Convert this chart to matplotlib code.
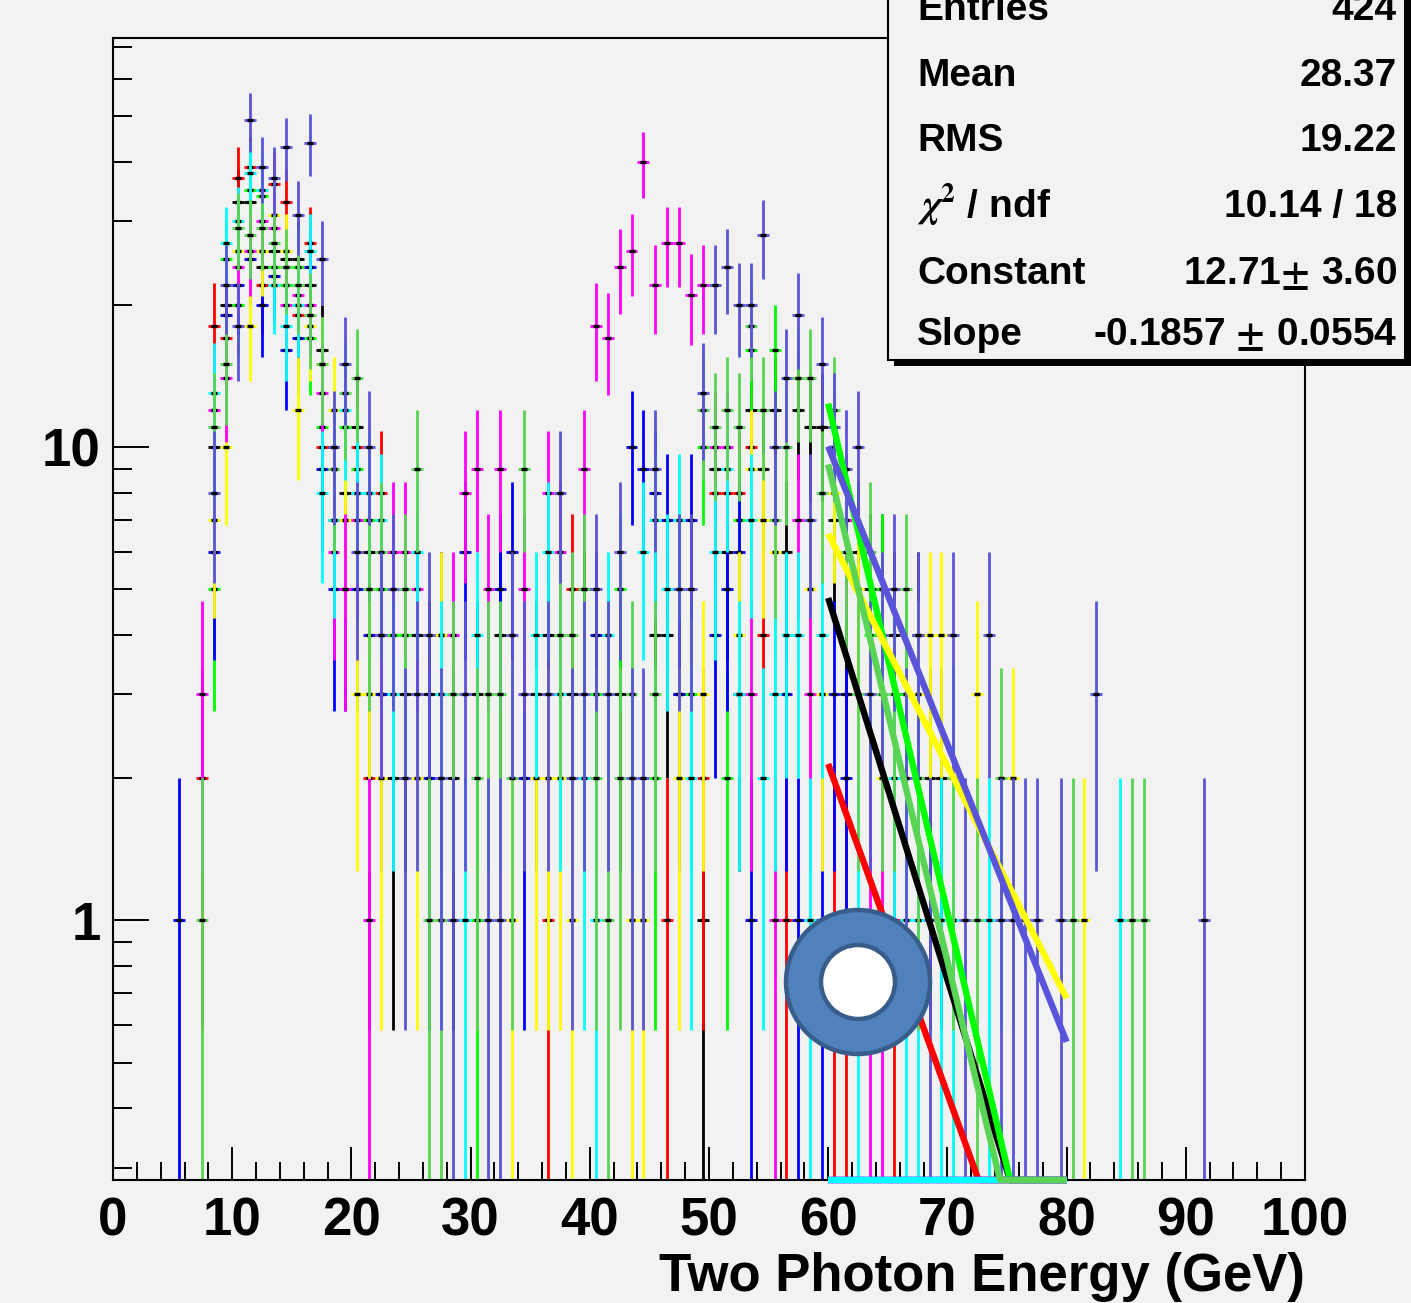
import numpy as np
import matplotlib
matplotlib.use("Agg")
import matplotlib.pyplot as plt
from matplotlib.collections import LineCollection
from matplotlib.patches import Rectangle, Annulus, Circle
from matplotlib.transforms import IdentityTransform
from matplotlib.ticker import FixedLocator, NullFormatter

# ---------------------------------------------------------------------------
# Data: counts per 1 GeV bin (0-100 GeV) for nine samples
# ---------------------------------------------------------------------------
bin_edges = list(range(0, 101))

counts_black = [
    0, 0, 0, 0, 0, 0, 0, 0, 10, 20,
    33, 33, 24, 26, 25, 25, 22, 16, 10, 8,
    11, 6, 3, 2, 3, 4, 3, 4, 2, 0,
    3, 0, 4, 0, 0, 3, 4, 0, 3, 5,
    0, 0, 3, 0, 0, 4, 4, 3, 0, 1,
    9, 6, 3, 12, 9, 12, 6, 12, 11, 11,
    7, 3, 6, 5, 5, 4, 3, 4, 2, 2,
    0, 0, 0, 0, 0, 0, 0, 0, 0, 0,
    0, 0, 0, 0, 0, 0, 0, 0, 0, 0,
    0, 0, 0, 0, 0, 0, 0, 0, 0, 0]
counts_red = [
    0, 0, 0, 0, 0, 0, 0, 2, 18, 17,
    37, 39, 22, 36, 33, 19, 27, 10, 7, 7,
    10, 2, 8, 0, 0, 0, 0, 0, 0, 0,
    0, 0, 0, 0, 0, 0, 1, 0, 5, 0,
    0, 0, 0, 0, 0, 0, 1, 0, 0, 2,
    8, 8, 8, 10, 4, 0, 1, 0, 0, 0,
    1, 1, 0, 0, 0, 1, 0, 0, 0, 0,
    0, 0, 0, 0, 0, 0, 0, 0, 0, 0,
    0, 0, 0, 0, 0, 0, 0, 0, 0, 0,
    0, 0, 0, 0, 0, 0, 0, 0, 0, 0]
counts_green = [
    0, 0, 0, 0, 0, 0, 0, 0, 5, 25,
    20, 35, 34, 24, 22, 24, 17, 11, 9, 11,
    9, 7, 5, 4, 4, 0, 0, 0, 0, 0,
    1, 0, 0, 0, 0, 0, 0, 0, 0, 0,
    3, 0, 5, 0, 0, 2, 0, 0, 3, 10,
    0, 2, 7, 16, 0, 16, 0, 0, 0, 0,
    10, 0, 0, 4, 5, 0, 3, 0, 0, 0,
    0, 0, 0, 0, 0, 0, 0, 0, 0, 0,
    0, 0, 0, 0, 0, 0, 0, 0, 0, 0,
    0, 0, 0, 0, 0, 0, 0, 0, 0, 0]
counts_blue = [
    0, 0, 0, 0, 0, 1, 0, 0, 6, 19,
    22, 25, 20, 23, 16, 17, 24, 9, 5, 5,
    5, 4, 3, 0, 0, 0, 2, 0, 0, 6,
    0, 0, 5, 6, 2, 0, 0, 0, 0, 0,
    4, 0, 0, 10, 9, 8, 7, 3, 7, 0,
    4, 5, 6, 1, 0, 0, 3, 1, 0, 1,
    3, 2, 0, 0, 0, 0, 0, 0, 0, 0,
    0, 0, 0, 0, 0, 0, 0, 0, 0, 0,
    0, 0, 0, 0, 0, 0, 0, 0, 0, 0,
    0, 0, 0, 0, 0, 0, 0, 0, 0, 0]
counts_yellow = [
    0, 0, 0, 0, 0, 0, 0, 0, 7, 10,
    26, 18, 26, 31, 26, 12, 18, 15, 12, 7,
    3, 3, 2, 0, 0, 2, 0, 4, 0, 0,
    0, 0, 0, 1, 0, 2, 2, 2, 1, 0,
    0, 0, 0, 1, 1, 0, 0, 2, 0, 3,
    0, 0, 4, 9, 7, 6, 0, 0, 5, 3,
    8, 0, 5, 0, 2, 0, 0, 3, 4, 4,
    1, 0, 3, 0, 0, 2, 0, 0, 0, 0,
    0, 1, 0, 0, 0, 0, 0, 0, 0, 0,
    0, 0, 0, 0, 0, 0, 0, 0, 0, 0]
counts_magenta = [
    0, 0, 0, 0, 0, 0, 0, 3, 12, 14,
    24, 26, 30, 29, 20, 21, 20, 13, 6, 5,
    7, 1, 4, 6, 6, 5, 0, 0, 4, 8,
    9, 5, 9, 0, 5, 0, 8, 6, 0, 9,
    18, 17, 24, 26, 40, 22, 27, 27, 21, 22,
    10, 10, 0, 3, 0, 1, 0, 7, 3, 0,
    0, 7, 0, 1, 1, 0, 0, 0, 0, 0,
    0, 0, 0, 0, 0, 0, 0, 0, 0, 0,
    0, 0, 0, 0, 0, 0, 0, 0, 0, 0,
    0, 0, 0, 0, 0, 0, 0, 0, 0, 0]
counts_cyan = [
    0, 0, 0, 0, 0, 0, 0, 0, 13, 27,
    30, 38, 35, 22, 18, 20, 26, 8, 7, 12,
    8, 8, 7, 3, 0, 6, 0, 3, 0, 1,
    4, 0, 0, 0, 0, 4, 6, 3, 0, 2,
    1, 4, 0, 0, 6, 7, 5, 7, 2, 0,
    6, 9, 3, 7, 2, 3, 4, 4, 1, 4,
    0, 0, 1, 0, 0, 2, 1, 1, 0, 1,
    1, 0, 0, 1, 0, 0, 0, 0, 0, 0,
    0, 0, 0, 0, 1, 0, 0, 0, 0, 0,
    0, 0, 0, 0, 0, 0, 0, 0, 0, 0]
counts_dkgreen = [
    0, 0, 0, 0, 0, 0, 0, 1, 11, 15,
    29, 28, 29, 27, 24, 22, 19, 15, 9, 13,
    14, 5, 6, 0, 5, 9, 1, 1, 3, 0,
    2, 3, 3, 2, 9, 0, 0, 4, 4, 5,
    2, 1, 2, 3, 0, 3, 0, 0, 0, 12,
    11, 12, 11, 18, 12, 7, 10, 14, 14, 8,
    12, 6, 3, 6, 3, 3, 5, 2, 0, 0,
    2, 0, 1, 0, 2, 0, 0, 0, 0, 0,
    1, 0, 0, 0, 0, 1, 1, 0, 0, 0,
    0, 0, 0, 0, 0, 0, 0, 0, 0, 0]
counts_slate = [
    0, 0, 0, 0, 0, 0, 0, 0, 8, 22,
    18, 49, 39, 37, 43, 31, 44, 25, 10, 15,
    6, 10, 4, 5, 2, 3, 4, 2, 1, 3,
    0, 1, 1, 4, 3, 0, 3, 8, 2, 3,
    5, 3, 6, 2, 2, 9, 0, 5, 5, 13,
    22, 24, 20, 20, 28, 10, 14, 19, 7, 15,
    11, 9, 10, 3, 4, 5, 2, 4, 1, 0,
    4, 1, 0, 4, 1, 1, 1, 1, 0, 1,
    0, 0, 3, 0, 0, 0, 0, 0, 0, 0,
    0, 1, 0, 0, 0, 0, 0, 0, 0, 0]

# ROOT palette indices 1..9
hist_colors = ["#000000", "#ff0000", "#00ff00", "#0000ff", "#ffff00",
               "#ff00ff", "#00ffff", "#59d454", "#5954d9"]

# exponential fits exp(constant + slope * E) over 60-80 GeV
fit_range = [60, 80]
fit_constants = [12.71, 10.39, 17.37, 5.0, 8.66, 5.0, 4.0, 16.72, 11.0]
fit_slopes = [-0.1857, -0.1605, -0.2476, -0.15, -0.113, -0.15, -0.12, -0.2417, -0.1449]

stat_labels = ["Entries", "Mean", "RMS", r"$\chi^{2}$ / ndf", "Constant", "Slope"]
stat_values = ["424", "28.37", "19.22", "10.14 / 18",
               r"12.71$\pm$ 3.60", r"-0.1857 $\pm$ 0.0554"]

# ---------------------------------------------------------------------------
plt.rcParams["font.family"] = ["Liberation Sans", "DejaVu Sans"]
plt.rcParams["font.weight"] = "bold"
plt.rcParams["mathtext.fontset"] = "stix"

W, H = 1411, 1303
BG = "#f2f2f2"
fig = plt.figure(figsize=(W / 100, H / 100), dpi=100, facecolor=BG)
ax = fig.add_axes([113 / W, 1 - 1180 / H, (1305 - 113) / W, (1180 - 38) / H])
ax.set_facecolor(BG)
ax.set_yscale("log")
YMIN, YMAX = 0.2824, 73.2
ax.set_xlim(0, 100)
ax.set_ylim(YMIN, YMAX)

edges = np.asarray(bin_edges, float)
centres = 0.5 * (edges[:-1] + edges[1:])
half_w = 0.5 * np.diff(edges)

all_counts = [counts_black, counts_red, counts_green, counts_blue, counts_yellow,
              counts_magenta, counts_cyan, counts_dkgreen, counts_slate]

for k, (counts, color) in enumerate(zip(all_counts, hist_colors)):
    n = np.asarray(counts, float)
    sel = n > 0
    v, xc, hw = n[sel], centres[sel], half_w[sel]
    err = np.sqrt(v)
    lo = np.maximum(v - err, 1e-3)
    hi = v + err
    segs = [[(x, a), (x, b)] for x, a, b in zip(xc, lo, hi)]
    segs += [[(x - w, y), (x + w, y)] for x, w, y in zip(xc, hw, v)]
    ax.add_collection(LineCollection(segs, colors=color, linewidths=2.0,
                                     capstyle="butt", zorder=2 + 0.1 * k))
    ax.plot(xc, v, ls="none", marker="_", ms=5, mew=2.4, color="black",
            zorder=2.05 + 0.1 * k)

fx = np.linspace(fit_range[0], fit_range[1], 300)
for c0, c1, color in zip(fit_constants, fit_slopes, hist_colors):
    fy = np.maximum(np.exp(c0 + c1 * fx), YMIN)
    ax.plot(fx, fy, color=color, lw=4.6, zorder=6, clip_on=False,
            solid_capstyle="butt")

# axes frame and ticks
for sp in ax.spines.values():
    sp.set_linewidth(1.5)
    sp.set_zorder(5)
ax.xaxis.set_major_locator(FixedLocator(np.arange(0, 101, 10)))
ax.xaxis.set_minor_locator(FixedLocator(np.arange(0, 101, 2)))
ax.set_xticklabels([str(t) for t in range(0, 101, 10)])
ax.yaxis.set_major_locator(FixedLocator([1, 10]))
ax.set_yticklabels(["1", "10"])
minor_y = [0.3, 0.4, 0.5, 0.6, 0.7, 0.8, 0.9] + list(range(2, 10)) + list(range(20, 80, 10))
ax.yaxis.set_minor_locator(FixedLocator(minor_y))
ax.yaxis.set_minor_formatter(NullFormatter())
ax.tick_params(axis="x", which="major", direction="in", length=24, width=1.4,
               labelsize=38, pad=12, top=False)
ax.tick_params(axis="x", which="minor", direction="in", length=13, width=1.4, top=False)
ax.tick_params(axis="y", which="major", direction="in", length=26, width=1.4,
               labelsize=38, pad=9, right=False)
ax.tick_params(axis="y", which="minor", direction="in", length=14, width=1.4, right=False)

fig.text(1305 / W, 1 - 1291 / H, "Two Photon Energy (GeV)", ha="right",
         va="baseline", fontsize=38, fontweight="bold")

# statistics box with drop shadow
bx0, bx1, by1 = 888, 1405, 360
fig.patches.append(Rectangle(((bx0 + 6) / W, 1 - (by1 + 6) / H), (bx1 - bx0) / W,
                             (by1 + 40) / H, transform=fig.transFigure,
                             facecolor="black", edgecolor="none", zorder=10))
fig.patches.append(Rectangle((bx0 / W, 1 - by1 / H), (bx1 - bx0) / W, (by1 + 40) / H,
                             transform=fig.transFigure, facecolor=BG,
                             edgecolor="black", lw=1.5, zorder=11))
baselines = [20, 86, 151, 217, 284, 345]
for lab, val, yb in zip(stat_labels, stat_values, baselines):
    fig.text(917 / W, 1 - yb / H, lab, ha="left", va="baseline", fontsize=28,
             fontweight="bold", zorder=12)
    fig.text(1397 / W, 1 - yb / H, val, ha="right", va="baseline", fontsize=28,
             fontweight="bold", zorder=12)

# ring marker
tr = IdentityTransform()
cx, cy = 858, H - 982
fig.patches.append(Circle((cx, cy), 37, transform=tr, facecolor="#ffffff",
                          edgecolor="none", zorder=13))
fig.patches.append(Annulus((cx, cy), 72, 35, transform=tr, facecolor="#4f81bd",
                           edgecolor="#385d8a", lw=3.2, zorder=14))

fig.savefig("out.png", dpi=100, facecolor=BG)
